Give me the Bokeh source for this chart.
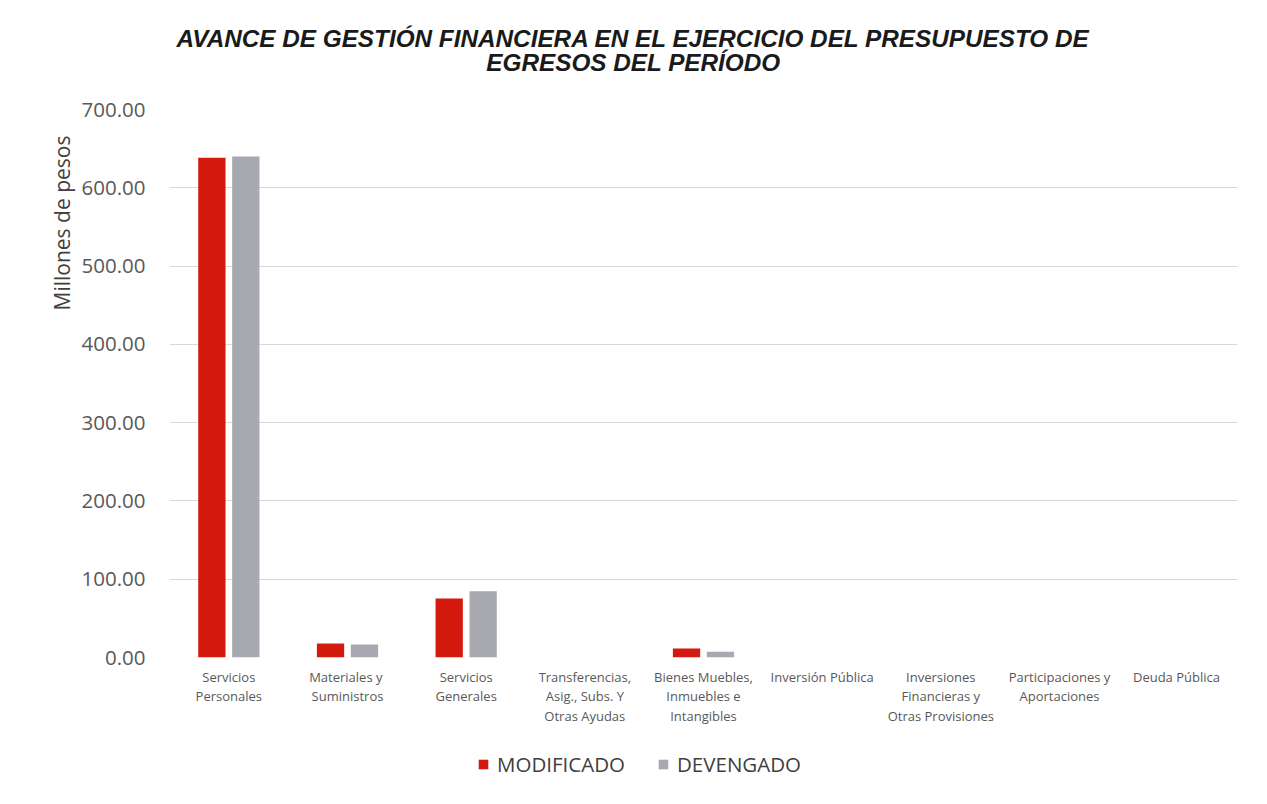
from bokeh.plotting import figure
from bokeh.layouts import column
from bokeh.models import (ColumnDataSource, Legend, LegendItem, Label, Title,
                          NumeralTickFormatter, FixedTicker, Range1d, FactorRange)
from bokeh.transform import dodge
from bokeh.embed import file_html
from bokeh.resources import INLINE

categories = [
    "Servicios\nPersonales",
    "Materiales  y\nSuministros",
    "Servicios\nGenerales",
    "Transferencias,\nAsig., Subs. Y\nOtras Ayudas",
    "Bienes Muebles,\nInmuebles e\nIntangibles",
    "Inversión Pública",
    "Inversiones\nFinancieras y\nOtras Provisiones",
    "Participaciones y\nAportaciones",
    "Deuda  Pública",
]
modificado = [638.5, 17.8, 75.5, 0.0, 11.5, 0.0, 0.0, 0.0, 0.0]
devengado = [640.0, 16.5, 84.5, 0.0, 7.5, 0.0, 0.0, 0.0, 0.0]
y_ticks = [0, 100, 200, 300, 400, 500, 600, 700]

title_lines = ["AVANCE DE GESTIÓN FINANCIERA EN EL EJERCICIO DEL PRESUPUESTO DE",
               "EGRESOS DEL PERÍODO"]
y_label = "Millones de pesos"
series_names = ["MODIFICADO", "DEVENGADO"]
colors = ["#d4190e", "#a8a8b0"]

W = 1259
BL, BR = 169, 22

src = ColumnDataSource(dict(cat=categories, mod=modificado, dev=devengado))

# ---- title strip ----
p0 = figure(width=W, height=75, x_range=Range1d(0, 1), y_range=Range1d(0, 1),
            output_backend="svg", toolbar_location=None, title=None,
            x_axis_type=None, y_axis_type=None,
            min_border_left=BL, min_border_right=BR, min_border_top=0, min_border_bottom=0)
p0.grid.visible = False
p0.outline_line_color = None
for txt, yy in zip(title_lines, [37, 13]):
    p0.add_layout(Label(x=464, y=yy, x_units="screen", y_units="screen", text=txt,
                        text_align="center", text_baseline="middle",
                        text_font="Liberation Sans", text_font_style="bold italic",
                        text_font_size="24.3px", text_color="#1a1a1a"))

# ---- main chart ----
p = figure(width=W, height=665, x_range=FactorRange(*categories, range_padding=0),
           y_range=Range1d(0, 700), output_backend="svg", toolbar_location=None,
           title=None,
           min_border_left=BL, min_border_right=BR, min_border_top=34,
           min_border_bottom=83)

r1 = p.vbar(x=dodge("cat", -0.143, range=p.x_range), top="mod", width=0.23,
            source=src, fill_color=colors[0], line_color=None)
r2 = p.vbar(x=dodge("cat", 0.143, range=p.x_range), top="dev", width=0.23,
            source=src, fill_color=colors[1], line_color=None)

p.outline_line_color = None
p.xgrid.grid_line_color = None
p.ygrid.grid_line_color = "#d9d9d9"
p.yaxis.ticker = FixedTicker(ticks=y_ticks)
p.yaxis.formatter = NumeralTickFormatter(format="0.00")
for ax in (p.xaxis[0], p.yaxis[0]):
    ax.axis_line_color = None
    ax.major_tick_line_color = None
    ax.minor_tick_line_color = None
    ax.major_label_text_font = "Open Sans"
    ax.major_label_text_color = "#595959"
p.yaxis.major_label_text_font_size = "20.5px"
p.yaxis.major_label_standoff = 18
p.xaxis.major_label_text_font_size = "13px"
p.xaxis.major_label_standoff = 4
p.xaxis.major_label_text_line_height = 1.1

# y-axis title, placed toward the top of the axis as in the original
ytitle = Title(text=y_label, align="left", offset=347, standoff=6,
               text_font="Open Sans", text_font_style="normal",
               text_font_size="21px", text_color="#404040")
p.add_layout(ytitle, "left")

# ---- legend strip ----
p2 = figure(width=W, height=56, x_range=FactorRange(*categories), y_range=Range1d(0, 1),
            output_backend="svg", toolbar_location=None, title=None,
            x_axis_type=None, y_axis_type=None,
            min_border_left=BL, min_border_right=BR, min_border_top=0, min_border_bottom=0)
p2.grid.visible = False
p2.outline_line_color = None
l1 = p2.vbar(x="cat", top="mod", width=0.2, source=src, fill_color=colors[0],
             line_color=None, visible=False)
l2 = p2.vbar(x="cat", top="dev", width=0.2, source=src, fill_color=colors[1],
             line_color=None, visible=False)

legend = Legend(items=[LegendItem(label=series_names[0], renderers=[l1]),
                       LegendItem(label=series_names[1], renderers=[l2])],
                orientation="horizontal", location=(308, 18),
                glyph_width=12, glyph_height=12, label_standoff=8, spacing=32,
                padding=0, margin=0, border_line_color=None, background_fill_alpha=0,
                inactive_fill_alpha=0,
                label_text_font="Open Sans", label_text_font_size="20.5px",
                label_text_color="#404040")
p2.add_layout(legend, "center")

open("out.html", "w").write(file_html(column(p0, p, p2, spacing=0), INLINE))
